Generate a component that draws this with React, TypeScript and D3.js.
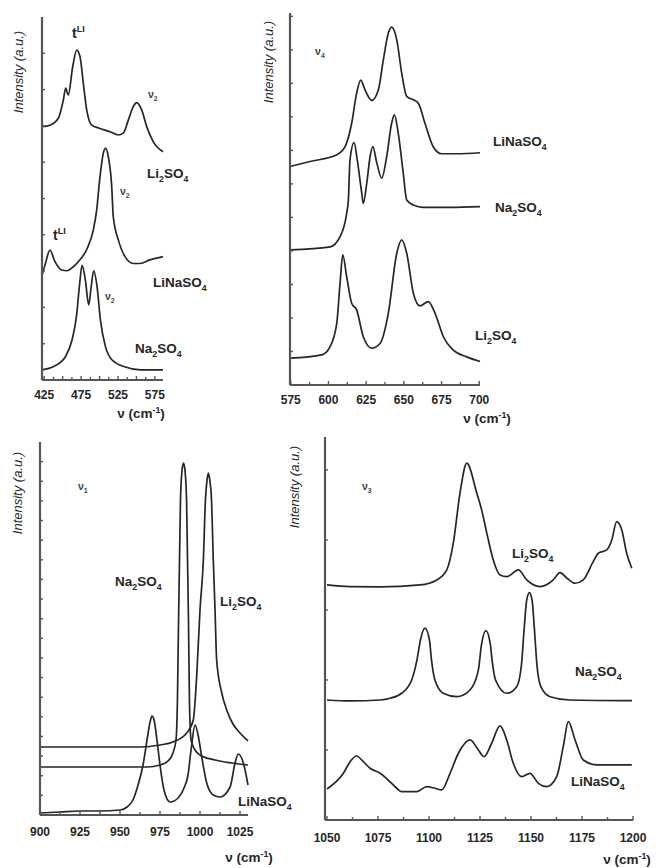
import React from 'react';
import * as d3 from 'd3';

type Pt = [number, number];
type Part = [string, number]; // 0 normal, -1 subscript, 1 superscript

// ---- ν2 region (top left), intensity in a.u.
const v2TickLabels = [425, 475, 525, 575];
const v2Li2SO4: Pt[] = [
  [422, 6.98], [432.8, 7.02], [444.1, 7.21], [450.9, 7.71], [454.1, 8.04], [457.6, 7.85],
  [463.6, 8.63], [469.0, 9.09], [473.5, 8.91], [478.0, 8.17], [482.6, 7.44], [489.4, 7.02],
  [500.6, 6.93], [514.2, 6.84], [525.4, 6.75], [532.2, 6.8], [539.0, 7.16], [545.7, 7.53],
  [550.4, 7.64], [557.1, 7.44], [563.9, 6.98], [572.9, 6.56], [586, 6.29],
];
const v2LiNaSO4: Pt[] = [
  [422, 2.89], [426.1, 3.17], [432.8, 3.58], [439.6, 3.26], [448.7, 3.03], [455.5, 3.01],
  [464.4, 3.12], [473.5, 3.31], [483.4, 3.63], [491.5, 4.13], [496.1, 4.68], [500.6, 5.6],
  [505.1, 6.25], [508.3, 6.38], [511.9, 6.15], [516.5, 5.33], [518.6, 4.5], [525.4, 3.86],
  [534.5, 3.4], [545.7, 3.21], [554.8, 3.21], [568.4, 3.31], [586, 3.4],
];
const v2Na2SO4: Pt[] = [
  [422, 0.28], [437.8, 0.37], [453.7, 0.64], [462.7, 1.1], [468.6, 1.74], [473.1, 2.66],
  [476.3, 3.16], [480.8, 2.75], [485.3, 2.07], [488.6, 2.56], [492.1, 3.01], [496.7, 2.56],
  [501.2, 1.65], [508.0, 0.92], [517.1, 0.55], [532.9, 0.37], [555.6, 0.28], [586, 0.28],
];

// ---- ν4 region (top right)
const v4TickLabels = [575, 600, 625, 650, 675, 700];
const v4LiNaSO4: Pt[] = [
  [574.5, 6.52], [587.8, 6.67], [605.5, 6.87], [611.0, 7.11], [615.4, 7.81], [618.7, 8.71],
  [621.4, 9.1], [624.2, 8.81], [628.7, 8.49], [633.1, 8.81], [636.4, 9.7], [639.7, 10.5],
  [641.9, 10.68], [645.3, 10.3], [648.6, 9.3], [651.9, 8.61], [656.3, 8.51], [659.6, 8.41],
  [664.0, 7.81], [669.5, 7.11], [675.1, 6.9], [685.1, 6.9], [700.5, 6.93],
];
const v4Na2SO4: Pt[] = [
  [574.5, 4.03], [601.0, 4.12], [607.7, 4.43], [612.1, 5.13], [613.2, 5.52], [614.3, 6.72],
  [617.0, 7.23], [619.1, 6.72], [622.1, 5.72], [623.1, 5.42], [625.4, 6.02], [627.6, 6.81],
  [629.4, 7.11], [632.1, 6.62], [635.3, 6.17], [638.6, 6.81], [641.9, 7.81], [643.7, 8.06],
  [646.3, 7.51], [649.6, 6.32], [651.9, 5.52], [656.3, 5.37], [662.9, 5.3], [680.6, 5.3],
  [700.5, 5.32],
];
const v4Li2SO4: Pt[] = [
  [574.5, 0.8], [595.5, 0.9], [601.0, 1.14], [605.5, 1.84], [607.7, 3.04], [609.5, 3.88],
  [612.1, 3.23], [615.4, 2.44], [618.7, 2.24], [623.1, 1.44], [628.7, 1.1], [634.2, 1.24],
  [639.7, 2.14], [645.3, 3.93], [648.6, 4.33], [651.9, 3.93], [656.3, 2.74], [660.7, 2.36],
  [666.2, 2.49], [670.7, 2.14], [676.2, 1.44], [682.8, 1.04], [691.7, 0.84], [700.5, 0.7],
];

// ---- ν1 region (bottom left)
const v1TickLabels = [900, 925, 950, 975, 1000, 1025];
const v1Na2SO4: Pt[] = [
  [900, 2.445], [966.9, 2.445], [975, 2.547], [980, 2.751], [983.1, 3.158], [985, 3.821],
  [985.9, 5.858], [986.6, 9.934], [987.2, 12.99], [987.8, 16.05], [988.8, 17.58], [989.7, 17.93],
  [990.6, 17.58], [991.6, 16.05], [992.2, 12.99], [992.8, 9.934], [993.4, 5.858], [994.4, 3.821],
  [996.9, 3.311], [1000, 3.057], [1009.4, 2.802], [1020, 2.649], [1030, 2.547],
];
const v1Li2SO4: Pt[] = [
  [900, 3.464], [962.5, 3.464], [975, 3.566], [983.1, 3.719], [991.7, 4.177], [995.8, 4.84],
  [997.9, 7.03], [1000, 10.443], [1002.1, 12.99], [1003.4, 16.047], [1004.4, 17.066],
  [1005.2, 17.422], [1006.1, 17.066], [1007.2, 16.047], [1008.3, 12.99], [1009.4, 10.443],
  [1010.4, 7.896], [1013.6, 6.215], [1016.7, 5.349], [1020.6, 4.636], [1025, 4.177], [1030, 3.77],
];
const v1LiNaSO4: Pt[] = [
  [900, 0.102], [912.5, 0.153], [925, 0.204], [937.5, 0.204], [950, 0.255], [954.4, 0.408],
  [958.1, 0.764], [961.3, 1.528], [964.4, 2.547], [966.9, 3.821], [968.8, 4.738], [970, 5.043],
  [971.3, 4.84], [973.1, 3.821], [975, 2.547], [977.5, 1.274], [981.3, 0.662], [986.3, 0.866],
  [990, 1.375], [992.5, 2.038], [994.4, 3.311], [996.9, 4.585], [998.8, 4.075], [1001.1, 2.955],
  [1004.2, 1.63], [1008.3, 1.019], [1012.5, 0.917], [1018.8, 1.426], [1021.9, 2.649],
  [1023.9, 3.107], [1027.1, 2.649], [1030, 1.528],
];

// ---- ν3 region (bottom right)
const v3TickLabels = [1050, 1075, 1100, 1125, 1150, 1175, 1200];
const v3Li2SO4: Pt[] = [
  [1050, 3.357], [1061.3, 3.333], [1076.0, 3.329], [1095.6, 3.357], [1103.8, 3.429],
  [1108.7, 3.571], [1111.9, 3.953], [1115.2, 4.671], [1118.5, 5.096], [1123.4, 4.671],
  [1125.8, 4.429], [1128.3, 4.1], [1131.5, 3.714], [1134.8, 3.5], [1138.1, 3.476],
  [1143.8, 3.571], [1147.9, 3.429], [1154.4, 3.333], [1160.9, 3.429], [1164.2, 3.533],
  [1167.5, 3.457], [1171.6, 3.381], [1175.6, 3.429], [1180.5, 3.69], [1183.0, 3.81],
  [1187.1, 3.857], [1189.6, 4.0], [1192.0, 4.261], [1194.5, 4.143], [1196.9, 3.81], [1199.4, 3.596],
];
const v3Na2SO4: Pt[] = [
  [1050, 1.714], [1061.3, 1.7], [1076.0, 1.714], [1080.9, 1.739], [1086.6, 1.81], [1091.5, 2.0],
  [1094.1, 2.286], [1095.8, 2.571], [1098.0, 2.739], [1100.2, 2.571], [1101.2, 2.286],
  [1102.9, 2.0], [1107.0, 1.81], [1113.6, 1.761], [1120.1, 1.857], [1124.2, 2.143],
  [1125.7, 2.5], [1127.9, 2.704], [1130.1, 2.5], [1130.9, 2.286], [1132.6, 2.0], [1138.1, 1.81],
  [1143.0, 1.904], [1145.3, 2.214], [1146.6, 2.714], [1147.9, 3.143], [1149.2, 3.247],
  [1150.5, 3.143], [1151.7, 2.714], [1152.9, 2.214], [1154.9, 1.9], [1159.3, 1.761],
  [1169.1, 1.714], [1199.5, 1.704],
];
const v3LiNaSO4: Pt[] = [
  [1050, 0.443], [1058.0, 0.667], [1061.3, 0.833], [1064.5, 0.914], [1067.8, 0.833],
  [1071.1, 0.739], [1076.0, 0.667], [1080.0, 0.571], [1084.2, 0.453], [1086.6, 0.404],
  [1094.0, 0.404], [1098.9, 0.476], [1102.9, 0.453], [1106.2, 0.429], [1110.3, 0.667],
  [1114.4, 0.953], [1120.1, 1.143], [1124.2, 1.0], [1127.0, 0.904], [1130.7, 1.096],
  [1134.8, 1.343], [1138.1, 1.143], [1141.3, 0.81], [1145.4, 0.619], [1149.5, 0.667],
  [1153.6, 0.524], [1157.7, 0.476], [1162.6, 0.619], [1165.8, 1.047], [1168.3, 1.404],
  [1171.6, 1.143], [1175.6, 0.857], [1182.2, 0.786], [1199.4, 0.786],
];

// text pieces
const LI2: Part[] = [['Li', 0], ['2', -1], ['SO', 0], ['4', -1]];
const NA2: Part[] = [['Na', 0], ['2', -1], ['SO', 0], ['4', -1]];
const LINA: Part[] = [['LiNaSO', 0], ['4', -1]];
const TLI: Part[] = [['t', 0], ['LI', 1]];
const nu = (n: string): Part[] => [['ν', 0], [n, -1]];
const AXIS_X: Part[] = [['ν (cm', 0], ['-1', 1], [')', 0]];

const FONT = '"Liberation Sans", Arial, sans-serif';
const INK = '#262626';

const panels = [
  {
    key: 'v2', x0: 42, x1: 163, yb: 380, yt: 17, xDomain: [422, 586], yMax: 10,
    ticks: [425, 587], tickLabels: v2TickLabels, labelDy: 19,
    series: [v2Li2SO4, v2LiNaSO4, v2Na2SO4],
    notes: [
      { w: 462.7, v: 9.42, parts: TLI, size: 14 },
      { w: 565.7, v: 7.77, parts: nu('2'), size: 10.5 },
      { w: 564.3, v: 5.56, parts: LI2, size: 13.5 },
      { w: 436.9, v: 3.86, parts: TLI, size: 14 },
      { w: 527.7, v: 5.1, parts: nu('2'), size: 10.5 },
      { w: 572.4, v: 2.56, parts: LINA, size: 13.5 },
      { w: 507.4, v: 2.2, parts: nu('2'), size: 10.5 },
      { w: 548.1, v: 0.74, parts: NA2, size: 13.5 },
    ],
    xTitle: [141, 418], yTitle: [20, 72],
  },
  {
    key: 'v4', x0: 290, x1: 480, yb: 385, yt: 13, xDomain: [574.5, 700.5], yMax: 11.1,
    ticks: [575, 700], tickLabels: v4TickLabels, labelDy: 19,
    series: [v4LiNaSO4, v4Na2SO4, v4Li2SO4],
    notes: [
      { w: 591.1, v: 9.85, parts: nu('4'), size: 10.5 },
      { w: 709.1, v: 7.13, parts: LINA, size: 13.5 },
      { w: 710.5, v: 5.16, parts: NA2, size: 13.5 },
      { w: 697.2, v: 1.34, parts: LI2, size: 13.5 },
    ],
    xTitle: [487, 423], yTitle: [270, 62],
  },
  {
    key: 'v1', x0: 40, x1: 248, yb: 815, yt: 442, xDomain: [900, 1030], yMax: 19,
    ticks: [900, 1025], tickLabels: v1TickLabels, labelDy: 21,
    series: [v1Na2SO4, v1Li2SO4, v1LiNaSO4],
    notes: [
      { w: 923.75, v: 16.56, parts: nu('1'), size: 10.5 },
      { w: 946.9, v: 11.67, parts: NA2, size: 13.5 },
      { w: 1012.5, v: 10.65, parts: LI2, size: 13.5 },
      { w: 1023.75, v: 0.46, parts: LINA, size: 13.5 },
    ],
    xTitle: [249, 862], yTitle: [18.5, 493],
  },
  {
    key: 'v3', x0: 325, x1: 633, yb: 820, yt: 437, xDomain: [1049, 1200], yMax: 5.47,
    ticks: [1050, 1200], tickLabels: v3TickLabels, labelDy: 22,
    series: [v3Li2SO4, v3Na2SO4, v3LiNaSO4],
    notes: [
      { w: 1067.1, v: 4.71, parts: nu('3'), size: 10.5 },
      { w: 1140.7, v: 3.74, parts: LI2, size: 13.5 },
      { w: 1171.6, v: 2.06, parts: NA2, size: 13.5 },
      { w: 1169.6, v: 0.49, parts: LINA, size: 13.5 },
    ],
    xTitle: [627, 864], yTitle: [296, 487],
  },
];

function Rich({ parts, size }: { parts: Part[]; size: number }) {
  let off = 0;
  return (
    <>
      {parts.map(([t, k], i) => {
        const target = k === -1 ? size * 0.3 : k === 1 ? -size * 0.4 : 0;
        const dy = target - off;
        off = target;
        return (
          <tspan key={i} dy={dy} fontSize={k ? size * 0.65 : size}>
            {t}
          </tspan>
        );
      })}
    </>
  );
}

function Panel({ p }: { p: (typeof panels)[number] }) {
  const x = d3.scaleLinear().domain(p.xDomain).range([p.x0, p.x1]);
  const y = d3.scaleLinear().domain([0, p.yMax]).range([p.yb, p.yt]);
  const line = d3
    .line<Pt>()
    .x((d) => x(d[0]))
    .y((d) => y(d[1]))
    .curve(d3.curveMonotoneX);
  const xTicks = d3.range(p.ticks[0], p.ticks[1] + 0.01, 12.5);
  const yTicks = d3.range(1, p.yMax);
  return (
    <g>
      {p.series.map((s, i) => (
        <path key={i} d={line(s) || ''} fill="none" stroke={INK} strokeWidth={1.7} strokeLinejoin="round" />
      ))}
      <line x1={p.x0} x2={p.x0} y1={p.yb} y2={p.yt} stroke="#555" strokeWidth={2.2} />
      <line x1={p.x0} x2={p.x1} y1={p.yb} y2={p.yb} stroke="#555" strokeWidth={2.2} />
      {xTicks.map((t) => (
        <line key={t} x1={x(t)} x2={x(t)} y1={p.yb} y2={p.yb - (t % 25 === 0 ? 4 : 3)} stroke="#555" strokeWidth={1.4} />
      ))}
      {yTicks.map((t) => (
        <line key={t} x1={p.x0} x2={p.x0 + 3} y1={y(t)} y2={y(t)} stroke="#555" strokeWidth={1.4} />
      ))}
      {p.tickLabels.map((t) => (
        <text key={t} x={x(t)} y={p.yb + p.labelDy} textAnchor="middle" fontSize={12} fontWeight="bold" fill={INK}>
          {t}
        </text>
      ))}
      {p.notes.map((n, i) => (
        <text key={i} x={x(n.w)} y={y(n.v)} fontWeight="bold" fill={n.size > 11 ? INK : '#444'}>
          <Rich parts={n.parts} size={n.size} />
        </text>
      ))}
      <text x={p.xTitle[0]} y={p.xTitle[1]} textAnchor="middle" fontWeight="bold" fill={INK}>
        <Rich parts={AXIS_X} size={13.5} />
      </text>
      <text
        transform={`translate(${p.yTitle[0]},${p.yTitle[1]}) rotate(-90)`}
        textAnchor="middle"
        dominantBaseline="middle"
        fontSize={13}
        fontStyle="italic"
        fill={INK}
      >
        Intensity (a.u.)
      </text>
    </g>
  );
}

export default function App() {
  return (
    <svg
      width={662}
      height={868}
      viewBox="0 0 662 868"
      style={{ position: 'absolute', left: 0, top: 0, background: '#fff' }}
      fontFamily={FONT}
    >
      <rect width={662} height={868} fill="#fff" />
      {panels.map((p) => (
        <Panel key={p.key} p={p} />
      ))}
    </svg>
  );
}
